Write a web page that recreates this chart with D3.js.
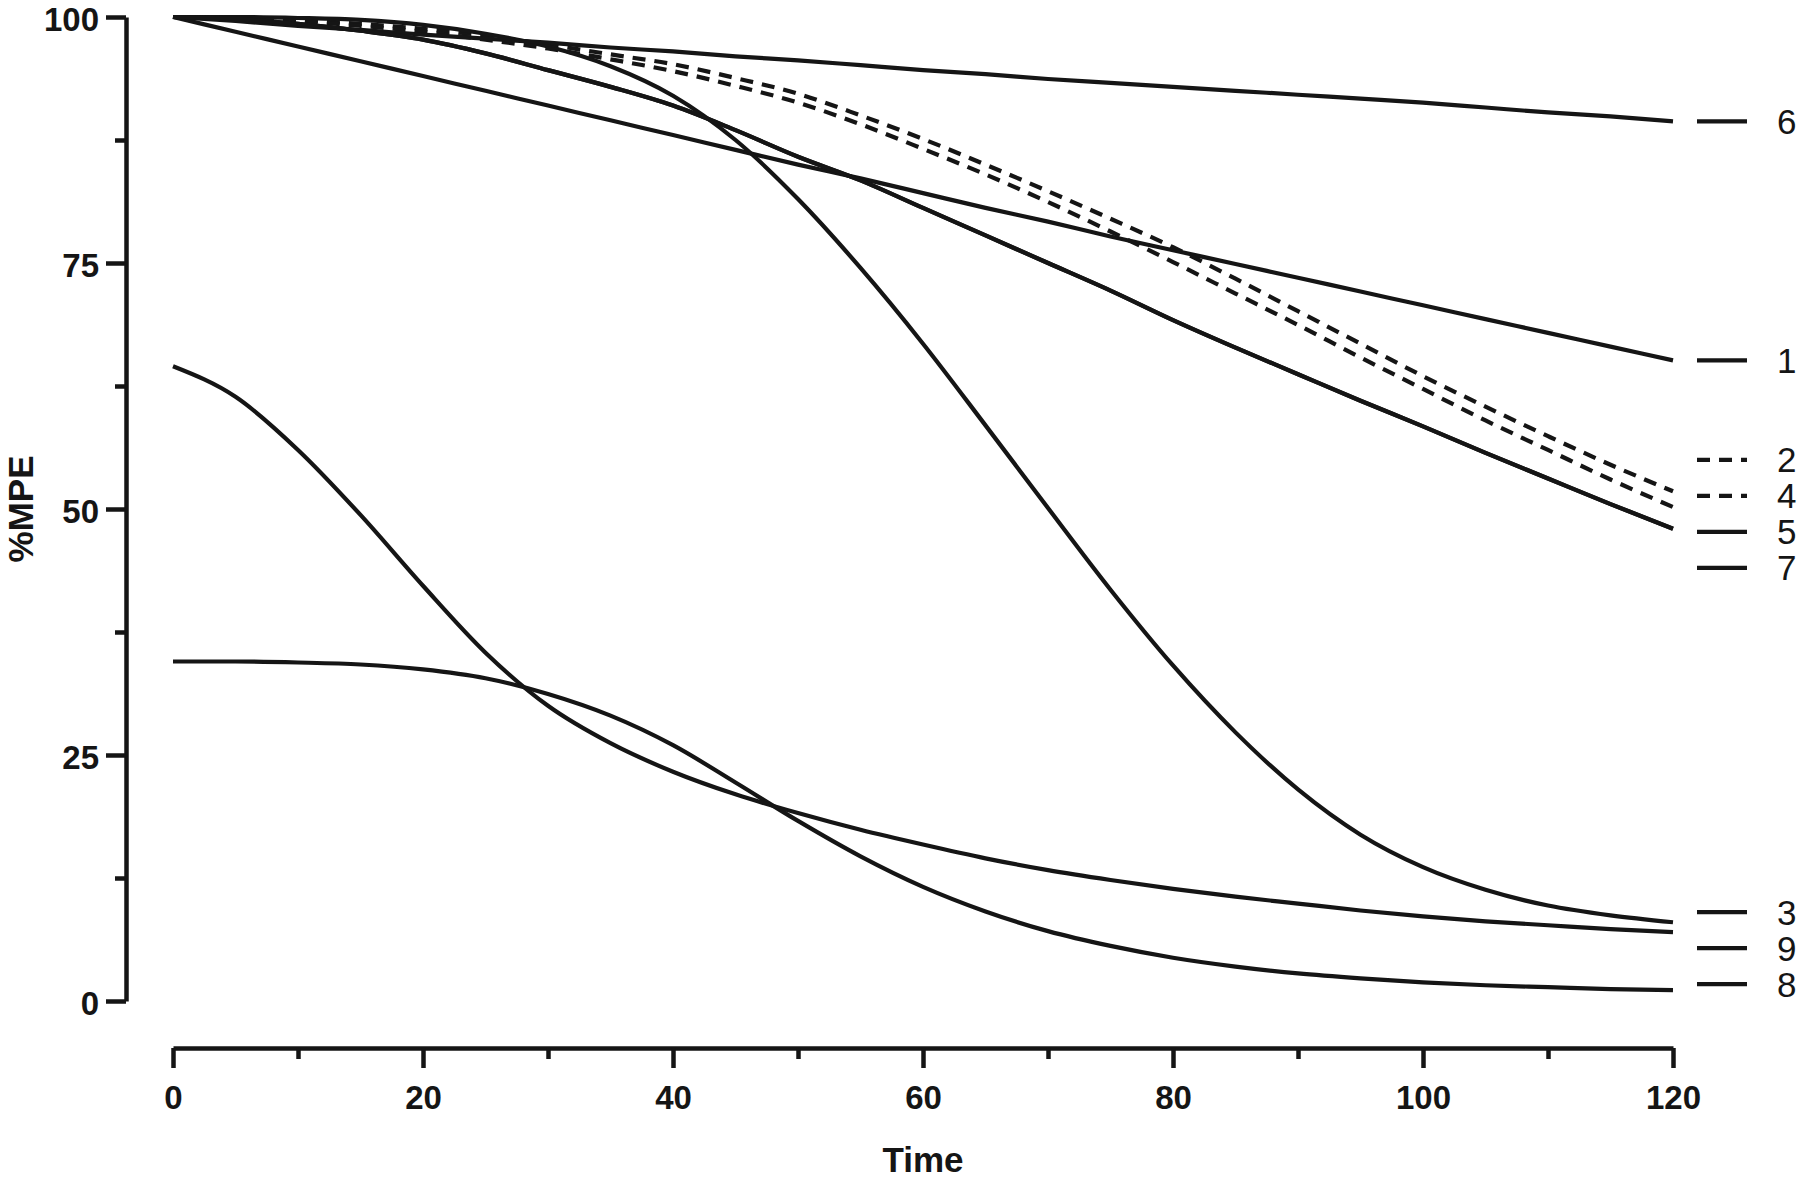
<!DOCTYPE html>
<html>
<head>
<meta charset="utf-8">
<script src="https://cdn.jsdelivr.net/npm/d3@7"></script>
<style>
  html, body { margin: 0; padding: 0; background: #fff; }
  svg { display: block; }
  .axis path, .axis line { stroke: #151515; stroke-width: 4.5; }
  .axis text { font-family: "Liberation Sans", Arial, sans-serif; font-weight: bold; font-size: 33px; fill: #151515; }
  .title { font-family: "Liberation Sans", Arial, sans-serif; font-weight: bold; font-size: 35px; fill: #151515; }
  .curve { fill: none; stroke: #151515; stroke-width: 4.2; }
  .legend text { font-family: "Liberation Sans", Arial, sans-serif; font-size: 35px; fill: #151515; }
</style>
</head>
<body>
<div id="chart"></div>
<script>
// time points (x) shared by all series
const time = [0, 5, 10, 15, 20, 25, 30, 35, 40, 45, 50, 55, 60, 65, 70, 75, 80, 85, 90, 95, 100, 105, 110, 115, 120];

// %MPE values
const s1 = [100, 98.5, 97.0, 95.5, 94.0, 92.5, 91.0, 89.5, 88.0, 86.5, 85.0, 83.6, 82.1, 80.6, 79.2, 77.7, 76.3, 74.9, 73.5, 72.1, 70.7, 69.3, 67.9, 66.5, 65.1];
const s2 = [100, 99.9, 99.7, 99.3, 98.8, 98.1, 97.2, 96.2, 95.2, 93.8, 92.2, 90.0, 87.6, 85.0, 82.3, 79.5, 76.6, 73.4, 70.1, 66.8, 63.5, 60.4, 57.4, 54.5, 51.8];
const s3 = [100, 100, 99.9, 99.7, 99.2, 98.3, 97.0, 95.0, 92.0, 87.5, 81.5, 74.5, 66.8, 58.5, 50.1, 41.8, 34.1, 27.3, 21.5, 16.9, 13.6, 11.3, 9.7, 8.7, 8.0];
const s4 = [100, 99.9, 99.6, 99.1, 98.5, 97.7, 96.8, 95.7, 94.5, 93.0, 91.3, 89.1, 86.6, 84.0, 81.2, 78.2, 75.1, 71.9, 68.7, 65.4, 62.2, 59.0, 56.0, 53.0, 50.2];
const s5 = [100, 99.8, 99.3, 98.6, 97.7, 96.3, 94.6, 92.9, 91.0, 88.5, 85.8, 83.4, 80.6, 77.8, 75.0, 72.2, 69.2, 66.4, 63.7, 61.0, 58.4, 55.7, 53.1, 50.5, 48.0];
const s6 = [100, 99.6, 99.1, 98.7, 98.2, 97.8, 97.4, 96.9, 96.5, 96.0, 95.6, 95.1, 94.6, 94.2, 93.7, 93.3, 92.9, 92.5, 92.1, 91.7, 91.3, 90.8, 90.3, 89.9, 89.4];
const s7 = [100, 99.8, 99.3, 98.6, 97.7, 96.3, 94.6, 92.9, 91.0, 88.5, 85.8, 83.4, 80.6, 77.8, 75.0, 72.2, 69.2, 66.4, 63.7, 61.0, 58.4, 55.7, 53.1, 50.5, 48.0];
const s8 = [34.5, 34.5, 34.4, 34.2, 33.7, 32.8, 31.2, 29.0, 26.0, 22.2, 18.3, 14.7, 11.6, 9.1, 7.1, 5.6, 4.4, 3.5, 2.8, 2.3, 1.9, 1.6, 1.4, 1.2, 1.1];
const s9 = [64.5, 61.4, 56.0, 49.4, 42.2, 35.4, 30.0, 26.2, 23.3, 21.0, 19.1, 17.4, 15.9, 14.5, 13.3, 12.3, 11.4, 10.6, 9.9, 9.2, 8.6, 8.1, 7.7, 7.3, 7.0];

const seriesNames = ["1", "2", "3", "4", "5", "6", "7", "8", "9"];
const seriesValues = [s1, s2, s3, s4, s5, s6, s7, s8, s9];
const dashedSeries = ["2", "4"];

const yTicks = [0, 25, 50, 75, 100];
const yMinorTicks = [12.5, 37.5, 62.5, 87.5];
const xTicks = [0, 20, 40, 60, 80, 100, 120];
const xMinorTicks = [10, 30, 50, 70, 90, 110];

const W = 1800, H = 1177;
const svg = d3.select("#chart").append("svg").attr("width", W).attr("height", H);

const x = d3.scaleLinear().domain([0, 120]).range([173, 1673]);
const y = d3.scaleLinear().domain([0, 100]).range([1001, 17]);
const axisX = 126, axisY = 1048;

// y axis
svg.append("g").attr("class", "axis")
  .attr("transform", `translate(${axisX},0)`)
  .call(d3.axisLeft(y).tickValues(yTicks).tickSize(20).tickSizeOuter(0).tickPadding(7))
  .selectAll("text").attr("dy", "0.4em");
svg.append("g").attr("class", "axis")
  .attr("transform", `translate(${axisX},0)`)
  .call(d3.axisLeft(y).tickValues(yMinorTicks).tickSize(11).tickFormat(""))
  .select(".domain").remove();

// x axis
svg.append("g").attr("class", "axis")
  .attr("transform", `translate(0,${axisY})`)
  .call(d3.axisBottom(x).tickValues(xTicks).tickSize(20).tickSizeOuter(0).tickPadding(18));
svg.append("g").attr("class", "axis")
  .attr("transform", `translate(0,${axisY})`)
  .call(d3.axisBottom(x).tickValues(xMinorTicks).tickSize(11).tickFormat(""))
  .select(".domain").remove();

// axis titles
svg.append("text").attr("class", "title")
  .attr("x", x(60)).attr("y", 1159)
  .attr("text-anchor", "middle").attr("dominant-baseline", "central")
  .text("Time");
svg.append("text").attr("class", "title")
  .attr("transform", `translate(20,${y(50)}) rotate(-90)`)
  .attr("text-anchor", "middle").attr("dominant-baseline", "central")
  .text("%MPE");

// curves
const line = d3.line()
  .x((d, i) => x(time[i]))
  .y(d => y(d))
  .curve(d3.curveMonotoneX);

const series = seriesNames.map((name, i) => ({ name, values: seriesValues[i], dashed: dashedSeries.includes(name) }));

svg.append("g").selectAll("path")
  .data(series)
  .join("path")
  .attr("class", "curve")
  .attr("d", d => line(d.values))
  .attr("stroke-dasharray", d => d.dashed ? "13,9" : null);

// legend: labels sit next to the curve ends, spread apart where they crowd
const gap = 36;
const items = series.map(d => ({ ...d, pos: y(d.values[d.values.length - 1]) }))
  .sort((a, b) => a.pos - b.pos);
let clusters = items.map(d => ({ members: [d], anchor: d.pos }));
let merged = true;
while (merged) {
  merged = false;
  for (let i = 0; i < clusters.length - 1; i++) {
    const a = clusters[i], b = clusters[i + 1];
    const aEnd = a.anchor + (a.members.length - 1) * gap / 2;
    const bStart = b.anchor - (b.members.length - 1) * gap / 2;
    if (bStart - aEnd < gap * 1.35) {
      const members = a.members.concat(b.members);
      clusters.splice(i, 2, { members, anchor: d3.mean(members, m => m.pos) });
      merged = true;
      break;
    }
  }
}
clusters.forEach(c => {
  const start = c.anchor - (c.members.length - 1) * gap / 2;
  c.members.forEach((m, j) => { m.ly = start + j * gap; });
});

const legend = svg.append("g").attr("class", "legend")
  .selectAll("g").data(items).join("g")
  .attr("transform", d => `translate(0,${d.ly})`);
legend.append("line")
  .attr("class", "curve")
  .attr("x1", 1697).attr("x2", 1747)
  .attr("stroke-dasharray", d => d.dashed ? "13,9" : null);
legend.append("text")
  .attr("x", 1777).attr("dominant-baseline", "central")
  .text(d => d.name);
</script>
</body>
</html>
